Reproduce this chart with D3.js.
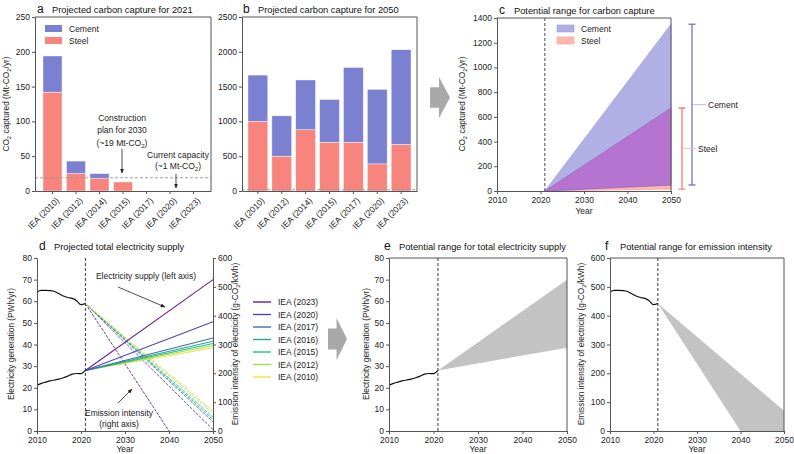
<!DOCTYPE html>
<html>
<head>
<meta charset="utf-8">
<script src="https://d3js.org/d3.v7.min.js"></script>
<style>
  body { margin: 0; background: #fff; }
  svg { font-family: "Liberation Sans", Arial, sans-serif; }
  .tick text { font-size: 8.5px; fill: #222; }
  .tick line, .domain { stroke: #555; }
</style>
</head>
<body>
<svg width="794" height="454"></svg>
<script>
// ---- data ----
var cats = ["IEA (2010)", "IEA (2012)", "IEA (2014)", "IEA (2015)", "IEA (2017)", "IEA (2020)", "IEA (2023)"]
var steel2021 = [142, 25, 18, 13, 0, 0, 0]
var cement2021 = [52, 18, 7, 0, 0, 0, 0]
var steel2050 = [1000, 500, 880, 700, 700, 390, 670]
var cement2050 = [665, 580, 715, 615, 1075, 1070, 1360]
var planLevel = 19

var rangeYears = [2021, 2050]
var cementLow = [0, 48]
var cementHigh = [0, 1350]
var steelLow = [0, 15]
var steelHigh = [0, 672]

var histYears = [2010, 2011, 2012, 2013, 2014, 2015, 2016, 2017, 2018, 2019, 2020, 2021]
var elecHist = [21.2, 22.0, 22.6, 23.2, 23.6, 24.0, 24.6, 25.4, 26.3, 26.6, 26.5, 28.0]
var emisHist = [483, 488, 488, 487, 484, 476, 468, 463, 460, 452, 438, 442]

var scenarios = ["IEA (2023)", "IEA (2020)", "IEA (2017)", "IEA (2016)", "IEA (2015)", "IEA (2012)", "IEA (2010)"]
var scenColors = ["#6a1f8c", "#5248b0", "#3f6fa6", "#2aa5a0", "#26c57a", "#a2dc58", "#f2e23a"]
var elec2050 = [70, 50.5, 43, 41.5, 40.5, 39.5, 38.5]
var emisEndYear = [2040, 2050, 2050, 2050, 2050, 2050, 2050]
var emisEnd = [0, 5, 32, 40, 48, 62, 70]

var yearTicks = [2010, 2020, 2030, 2040, 2050]

var cementCol = "#7c80d0", steelCol = "#f8847e"

var svg = d3.select("svg")

// ---- helpers ----
function label(x, y, str, opt) {
  opt = opt || {}
  var t = svg.append("text").attr("x", x).attr("y", y)
    .attr("text-anchor", opt.anchor || "middle")
    .style("font-size", (opt.size || 8.5) + "px").attr("fill", "#222")
  if (opt.rotate) t.attr("transform", "rotate(" + opt.rotate + "," + x + "," + y + ")")
  var parts = str.split("_2")
  parts.forEach(function(p, i) {
    var sp = t.append("tspan").text(p)
    if (i > 0) sp.attr("dy", -2)
    if (i < parts.length - 1)
      t.append("tspan").attr("dy", 2).style("font-size", "0.72em").text("2")
  })
  return t
}
function styleAxis(g) {
  g.selectAll(".domain").attr("stroke", "#555")
  g.selectAll(".tick line").attr("stroke", "#555")
}
function frame(x0, x1, y0, y1) {
  svg.append("path").attr("d", "M" + x0 + "," + y0 + "H" + x1 + "V" + y1)
    .attr("fill", "none").attr("stroke", "#555")
}
function title(x, y, letter, txt) {
  svg.append("text").attr("x", x).attr("y", y).text(letter).style("font-size", "12px").attr("fill", "#111")
  svg.append("text").attr("x", x + 15).attr("y", y).text(txt).style("font-size", "9.3px").attr("fill", "#111")
}
function bigArrow(x, y, w, h) {
  var b = h * 0.25
  svg.append("path").attr("fill", "#a9a9a9")
    .attr("d", "M" + x + "," + (y + h / 2 - b) + "H" + (x + w * 0.45) + "V" + y + "L" + (x + w) + "," + (y + h / 2) +
      "L" + (x + w * 0.45) + "," + (y + h) + "V" + (y + h / 2 + b) + "H" + x + "Z")
}
svg.append("defs").append("marker").attr("id", "ah").attr("viewBox", "0 0 10 10")
  .attr("refX", 9).attr("refY", 5).attr("markerWidth", 6).attr("markerHeight", 6).attr("orient", "auto")
  .append("path").attr("d", "M0,1L10,5L0,9Z").attr("fill", "#222")
function arrow(x1, y1, x2, y2) {
  svg.append("line").attr("x1", x1).attr("y1", y1).attr("x2", x2).attr("y2", y2)
    .attr("stroke", "#222").attr("stroke-width", 0.8).attr("marker-end", "url(#ah)")
}
function leftAxis(x0, y, ticks) {
  var g = svg.append("g").attr("transform", "translate(" + x0 + ",0)")
    .call(d3.axisLeft(y).tickValues(ticks).tickFormat(d3.format("d")).tickSize(3).tickSizeOuter(0).tickPadding(2))
  styleAxis(g)
  g.selectAll(".tick text").attr("dy", "0.3em")
  return g
}
function yearAxis(y1, x) {
  var g = svg.append("g").attr("transform", "translate(0," + y1 + ")")
    .call(d3.axisBottom(x).tickValues(yearTicks).tickFormat(d3.format("d")).tickSize(3).tickSizeOuter(0).tickPadding(3))
  styleAxis(g)
  return g
}

// ---- stacked bar panels ----
function barPanel(x0, x1, y0, y1, steel, cement, ymax, step, pi, po) {
  var x = d3.scaleBand().domain(cats).range([x0, x1]).paddingInner(pi).paddingOuter(po)
  var y = d3.scaleLinear().domain([0, ymax]).range([y1, y0])
  var g = svg.append("g")
  g.selectAll(".st").data(cats).enter().append("rect")
    .attr("x", function(d) { return x(d) }).attr("width", x.bandwidth())
    .attr("y", function(d, i) { return y(steel[i]) })
    .attr("height", function(d, i) { return y(0) - y(steel[i]) })
    .attr("fill", steelCol)
  g.selectAll(".ce").data(cats).enter().append("rect")
    .attr("x", function(d) { return x(d) }).attr("width", x.bandwidth())
    .attr("y", function(d, i) { return y(steel[i] + cement[i]) })
    .attr("height", function(d, i) { return y(steel[i]) - y(steel[i] + cement[i]) })
    .attr("fill", cementCol)
  g.selectAll("rect").attr("stroke", "#fff").attr("stroke-width", 0.6).attr("stroke-opacity", 0.7)
  svg.append("line").attr("x1", x0).attr("x2", x1).attr("y1", y(planLevel)).attr("y2", y(planLevel))
    .attr("stroke", "#999").attr("stroke-dasharray", "3,2").attr("stroke-width", 0.9)
  leftAxis(x0, y, d3.range(0, ymax + 1, step))
  var ax = svg.append("g").attr("transform", "translate(0," + y1 + ")")
    .call(d3.axisBottom(x).tickSize(3).tickSizeOuter(0))
  styleAxis(ax)
  ax.selectAll(".tick text").attr("text-anchor", "end").attr("dy", 0)
    .attr("transform", "translate(3,6) rotate(-45)")
  frame(x0, x1, y0, y1)
  return y
}

barPanel(35, 211, 17, 191, steel2021, cement2021, 250, 50, 0.19, 0.34)
barPanel(242, 417, 17, 191, steel2050, cement2050, 2500, 500, 0.17, 0.25)
title(37, 13, "a", "Projected carbon capture for 2021")
title(243, 13, "b", "Projected carbon capture for 2050")
label(9, 104, "CO_2 captured (Mt-CO_2/yr)", { rotate: -90, size: 8.3 })

// legend a
var legA = [["Cement", cementCol], ["Steel", steelCol]]
legA.forEach(function(d, i) {
  svg.append("rect").attr("x", 45).attr("y", 25 + i * 12).attr("width", 17).attr("height", 7).attr("fill", d[1])
  svg.append("text").attr("x", 69).attr("y", 32 + i * 12).text(d[0]).style("font-size", "8.5px").attr("fill", "#222")
})
// annotations a
label(122, 121, "Construction", {})
label(122, 133, "plan for 2030", {})
label(122, 146, "(~19 Mt-CO_2)", {})
arrow(122, 149, 122, 173)
label(178, 158, "Current capacity", {})
label(178, 169, "(~1 Mt-CO_2)", {})
arrow(176, 174, 176, 188)

bigArrow(430, 77, 20, 41)

// ---- panel c ----
;(function() {
  var x0 = 497, x1 = 671, y0 = 18, y1 = 191
  var x = d3.scaleLinear().domain([2010, 2050]).range([x0, x1])
  var y = d3.scaleLinear().domain([0, 1400]).range([y1, y0])
  var idx = [0, 1]
  function band(lo, hi) {
    return d3.area().x(function(i) { return x(rangeYears[i]) })
      .y0(function(i) { return y(lo[i]) }).y1(function(i) { return y(hi[i]) })(idx)
  }
  var ovLow = idx.map(function(i) { return Math.max(cementLow[i], steelLow[i]) })
  var ovHigh = idx.map(function(i) { return Math.min(cementHigh[i], steelHigh[i]) })
  svg.append("path").attr("d", band(steelLow, steelHigh)).attr("fill", "#ffb5b0").attr("stroke", "#ff9d98").attr("stroke-width", 0.6)
  svg.append("path").attr("d", band(cementLow, cementHigh)).attr("fill", "#b1b0e4").attr("stroke", "#9a98dc").attr("stroke-width", 0.6)
  svg.append("path").attr("d", band(ovLow, ovHigh)).attr("fill", "#b474cf").attr("stroke", "#9a5ac0").attr("stroke-width", 0.6)
  svg.append("line").attr("x1", x(2021)).attr("x2", x(2021)).attr("y1", y0).attr("y2", y1)
    .attr("stroke", "#333").attr("stroke-dasharray", "3,2").attr("stroke-width", 0.9)
  leftAxis(x0, y, d3.range(0, 1401, 200))
  yearAxis(y1, x)
  frame(x0, x1, y0, y1)
  title(499, 14, "c", "Potential range for carbon capture")
  label(584, 214, "Year", {})
  label(465, 104, "CO_2 captured (Mt-CO_2/yr)", { rotate: -90, size: 8.3 })
  // legend
  var leg = [["Cement", "#b1b0e4", "#9a98dc"], ["Steel", "#ffb5b0", "#ff9d98"]]
  leg.forEach(function(d, i) {
    svg.append("rect").attr("x", 557).attr("y", 25 + i * 12).attr("width", 17).attr("height", 7)
      .attr("fill", d[1]).attr("stroke", d[2]).attr("stroke-width", 0.6)
    svg.append("text").attr("x", 581).attr("y", 32 + i * 12).text(d[0]).style("font-size", "8.5px").attr("fill", "#222")
  })
  // range bars
  var bars = [["Cement", cementLow[1], cementHigh[1], 692, cementCol, "#a9acdf"], ["Steel", steelLow[1], steelHigh[1], 682, steelCol, "#fbb8b4"]]
  bars.forEach(function(b) {
    var mid = (y(b[1]) + y(b[2])) / 2
    svg.append("line").attr("x1", b[3]).attr("x2", b[3] + 14).attr("y1", mid).attr("y2", mid).attr("stroke", b[5]).attr("stroke-width", 0.8)
    svg.append("path").attr("fill", "none").attr("stroke", b[4]).attr("stroke-width", 1.4)
      .attr("d", "M" + (b[3] - 3.5) + "," + y(b[2]) + "h7M" + b[3] + "," + y(b[2]) + "V" + y(b[1]) + "M" + (b[3] - 3.5) + "," + y(b[1]) + "h7")
    svg.append("text").attr("x", b[3] + 16).attr("y", mid + 3).text(b[0]).style("font-size", "8.5px").attr("fill", "#222")
  })
})()

// ---- panel d ----
;(function() {
  var x0 = 37, x1 = 213, y0 = 258, y1 = 431
  var x = d3.scaleLinear().domain([2010, 2050]).range([x0, x1])
  var yL = d3.scaleLinear().domain([0, 80]).range([y1, y0])
  var yR = d3.scaleLinear().domain([0, 600]).range([y1, y0])
  var last = histYears.length - 1
  scenarios.forEach(function(s, i) {
    svg.append("line").attr("x1", x(histYears[last])).attr("y1", yR(emisHist[last]))
      .attr("x2", x(emisEndYear[i])).attr("y2", yR(emisEnd[i]))
      .attr("stroke", scenColors[i]).attr("stroke-width", 0.9).attr("stroke-dasharray", "3,1.2")
  })
  scenarios.slice().reverse().forEach(function(s, j) {
    var i = scenarios.length - 1 - j
    svg.append("line").attr("x1", x(histYears[last])).attr("y1", yL(elecHist[last]))
      .attr("x2", x(2050)).attr("y2", yL(elec2050[i]))
      .attr("stroke", scenColors[i]).attr("stroke-width", 1.1)
  })
  var idx = d3.range(histYears.length)
  svg.append("path").attr("fill", "none").attr("stroke", "#111").attr("stroke-width", 1.2)
    .attr("d", d3.line().curve(d3.curveMonotoneX).x(function(i) { return x(histYears[i]) }).y(function(i) { return yL(elecHist[i]) })(idx))
  svg.append("path").attr("fill", "none").attr("stroke", "#111").attr("stroke-width", 1.2)
    .attr("d", d3.line().curve(d3.curveMonotoneX).x(function(i) { return x(histYears[i]) }).y(function(i) { return yR(emisHist[i]) })(idx))
  svg.append("line").attr("x1", x(2021)).attr("x2", x(2021)).attr("y1", y0).attr("y2", y1)
    .attr("stroke", "#222").attr("stroke-dasharray", "3,2").attr("stroke-width", 0.9)
  leftAxis(x0, yL, d3.range(0, 81, 10))
  var ar = svg.append("g").attr("transform", "translate(" + x1 + ",0)")
    .call(d3.axisRight(yR).tickValues(d3.range(0, 601, 100)).tickSize(3).tickSizeOuter(0).tickPadding(2))
  styleAxis(ar)
  ar.selectAll(".tick text").attr("dy", "0.3em")
  yearAxis(y1, x)
  title(39, 250, "d", "Projected total electricity supply")
  label(125, 452, "Year", {})
  label(14, 344, "Electricity generation (PWh/yr)", { rotate: -90, size: 8.3 })
  label(238, 344, "Emission intensity of electricity (g-CO_2/kWh)", { rotate: -90, size: 8.3 })
  label(146, 279, "Electricity supply (left axis)", {})
  arrow(118, 287, 165, 307)
  label(119, 416, "Emission intensity", {})
  label(119, 427, "(right axis)", {})
  arrow(118, 403, 132, 389)
  // legend
  scenarios.forEach(function(s, i) {
    var yy = 302 + i * 12.5
    svg.append("line").attr("x1", 253).attr("x2", 271).attr("y1", yy).attr("y2", yy)
      .attr("stroke", scenColors[i]).attr("stroke-width", 1.4)
    svg.append("text").attr("x", 278).attr("y", yy + 3).text(s).style("font-size", "8.5px").attr("fill", "#222")
  })
})()

bigArrow(328, 318, 19, 42)

// ---- panels e, f ----
function rangePanel(x0, x1, ymax, step, hist, hiPts, loPts, letter, ttl, ylab, labx) {
  var y0 = 258, y1 = 431
  var x = d3.scaleLinear().domain([2010, 2050]).range([x0, x1])
  var y = d3.scaleLinear().domain([0, ymax]).range([y1, y0])
  var poly = hiPts.concat(loPts.slice().reverse())
  svg.append("path").attr("fill", "#c3c3c3")
    .attr("d", d3.line().x(function(p) { return x(p[0]) }).y(function(p) { return y(p[1]) })(poly) + "Z")
  var idx = d3.range(histYears.length)
  svg.append("path").attr("fill", "none").attr("stroke", "#111").attr("stroke-width", 1.2)
    .attr("d", d3.line().curve(d3.curveMonotoneX).x(function(i) { return x(histYears[i]) }).y(function(i) { return y(hist[i]) })(idx))
  svg.append("line").attr("x1", x(2021)).attr("x2", x(2021)).attr("y1", y0).attr("y2", y1)
    .attr("stroke", "#222").attr("stroke-dasharray", "3,2").attr("stroke-width", 0.9)
  leftAxis(x0, y, d3.range(0, ymax + 1, step))
  yearAxis(y1, x)
  frame(x0, x1, y0, y1)
  title(x0 - 5, 250, letter, ttl)
  label((x0 + x1) / 2, 452, "Year", {})
  label(labx, 344, ylab, { rotate: -90, size: 8.3 })
}
var last = histYears.length - 1
var eHi = [[2021, elecHist[last]], [2050, elec2050[0]]]
var eLo = [[2021, elecHist[last]], [2050, elec2050[6]]]
rangePanel(389, 567, 80, 10, elecHist, eHi, eLo, "e", "Potential range for total electricity supply", "Electricity generation (PWh/yr)", 369)
var fHi = [[2021, emisHist[last]], [2050, emisEnd[6]]]
var fLo = [[2021, emisHist[last]], [emisEndYear[0], emisEnd[0]], [2050, emisEnd[0]]]
rangePanel(610, 784, 600, 100, emisHist, fHi, fLo, "f", "Potential range for emission intensity", "Emission intensity of electricity (g-CO_2/kWh)", 584)
</script>
</body>
</html>
